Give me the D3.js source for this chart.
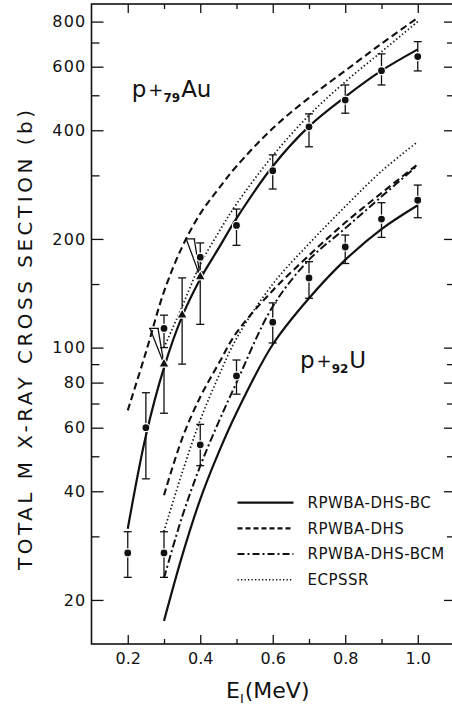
<!DOCTYPE html>
<html>
<head>
<meta charset="utf-8">
<script src="https://cdn.jsdelivr.net/npm/d3@7"></script>
<style>
  body { margin: 0; background: #fff; }
  svg { display: block; font-family: "DejaVu Sans", sans-serif; }
</style>
</head>
<body>
<div id="wrapper"></div>
<script>
// curves (cross section in barns)
const energiesAu = [0.2, 0.25, 0.3, 0.35, 0.4, 0.45, 0.5, 0.6, 0.7, 0.8, 0.9, 1.0]
const auBC  = [31.5, 57, 88, 122, 155, 188, 228, 318, 410, 495, 585, 670]
const auDHS = [67, 97, 143, 190, 235, 275, 318, 405, 492, 585, 695, 820]
const energiesAuEcpssr = [0.3, 0.35, 0.4, 0.45, 0.5, 0.6, 0.7, 0.8, 0.9, 1.0]
const auECPSSR = [100, 130, 170, 208, 250, 340, 440, 545, 660, 800]

const energiesU = [0.3, 0.35, 0.4, 0.45, 0.5, 0.6, 0.7, 0.8, 0.9, 1.0]
const uBC     = [17.5, 26.5, 38, 51, 66, 102, 137, 175, 213, 248]
const uDHS    = [39, 56, 73, 90, 110, 144, 180, 222, 268, 322]
const uBCM    = [23, 34, 47, 62, 80, 130, 175, 214, 262, 320]
const uECPSSR = [31, 45, 63, 83, 106, 150, 194, 246, 308, 372]

// measured points
const auPointE  = [0.2, 0.25, 0.3, 0.4, 0.5, 0.6, 0.7, 0.8, 0.9, 1.0]
const auPointV  = [27, 60, 113, 178, 218, 309, 409, 485, 585, 640]
const auPointLo = [23.1, 43.3, 100, 162, 192, 275, 360, 446, 534, 584]
const auPointHi = [30.9, 75, 123, 195, 242, 342, 444, 534, 651, 704]

const auTriE   = [0.3, 0.35, 0.4]
const auTriV   = [90, 123, 157]
const auTriLo  = [65.8, 90, 116]
const auTriHi  = [113, 156, 200]
const auTriVee = [true, false, true]

const uPointE  = [0.3, 0.4, 0.5, 0.6, 0.7, 0.8, 0.9, 1.0]
const uPointV  = [27, 53.8, 83.5, 117.6, 156, 190, 227, 256]
const uPointLo = [23.1, 47.1, 74.3, 103, 137, 171, 202, 229]
const uPointHi = [30.9, 61.3, 92.4, 133, 173, 205, 252, 282]

const legendLabels = ["RPWBA-DHS-BC", "RPWBA-DHS", "RPWBA-DHS-BCM", "ECPSSR"]
const legendStyles = ["solid", "dashed", "dashdot", "dotted"]

const yMajorTicks = [20, 40, 60, 80, 100, 200, 400, 600, 800]
const yMinorTicks = [30, 50, 70, 90, 150, 300, 500, 700]
const xMajorTicks = [0.2, 0.4, 0.6, 0.8, 1.0]
const xMinorTicks = [0.3, 0.5, 0.7, 0.9]

const ink = "#111"
const styles = {
  solid:   { width: 2.2, dash: null },
  dashed:  { width: 2.1, dash: "7,4" },
  dashdot: { width: 2.0, dash: "8,3,2,3" },
  dotted:  { width: 1.7, dash: "1.4,2.4" }
}

let dimensions = {
  width: 452,
  height: 707,
  margin: { top: 4, right: -2, bottom: 63, left: 91.5 }
}
dimensions.boundedWidth = dimensions.width
    - dimensions.margin.right
    - dimensions.margin.left
dimensions.boundedHeight = dimensions.height
    - dimensions.margin.top
    - dimensions.margin.bottom

const svg = d3.select("#wrapper")
  .append("svg")
    .attr("width", dimensions.width)
    .attr("height", dimensions.height)

svg.append("rect")
    .attr("width", dimensions.width)
    .attr("height", dimensions.height)
    .attr("fill", "#fff")

const bounds = svg.append("g")
    .attr("transform", `translate(${dimensions.margin.left},${dimensions.margin.top})`)

const xScale = d3.scaleLinear()
    .domain([0.1, 1.1])
    .range([0, dimensions.boundedWidth])

const yScale = d3.scaleLog()
    .domain([15.1, 895])
    .range([dimensions.boundedHeight, 0])

// axes: ticks point inwards on all four sides
function styleAxis(g) {
  g.select(".domain").remove()
  g.selectAll(".tick line").attr("stroke", ink).attr("stroke-width", 1.3)
  g.selectAll(".tick text").attr("fill", ink)
}

bounds.append("g")
    .call(d3.axisLeft(yScale).tickValues(yMajorTicks).tickFormat(d3.format("d"))
      .tickSize(-12).tickPadding(5))
    .call(styleAxis)
    .attr("font-size", 16)
    .attr("font-family", "DejaVu Sans")
    .selectAll("text").attr("letter-spacing", 1.2)
bounds.append("g")
    .call(d3.axisLeft(yScale).tickValues(yMinorTicks).tickFormat("").tickSize(-8))
    .call(styleAxis)

bounds.append("g")
    .attr("transform", `translate(${dimensions.boundedWidth},0)`)
    .call(d3.axisRight(yScale).tickValues(yMajorTicks).tickFormat("").tickSize(-10))
    .call(styleAxis)
bounds.append("g")
    .attr("transform", `translate(${dimensions.boundedWidth},0)`)
    .call(d3.axisRight(yScale).tickValues(yMinorTicks).tickFormat("").tickSize(-7))
    .call(styleAxis)

bounds.append("g")
    .attr("transform", `translate(0,${dimensions.boundedHeight})`)
    .call(d3.axisBottom(xScale).tickValues(xMajorTicks).tickFormat(d3.format(".1f"))
      .tickSize(-9).tickPadding(9))
    .call(styleAxis)
    .attr("font-size", 16)
    .attr("font-family", "DejaVu Sans")
bounds.append("g")
    .attr("transform", `translate(0,${dimensions.boundedHeight})`)
    .call(d3.axisBottom(xScale).tickValues(xMinorTicks).tickFormat("").tickSize(-5))
    .call(styleAxis)

bounds.append("g")
    .call(d3.axisTop(xScale).tickValues(xMajorTicks).tickFormat("").tickSize(-9))
    .call(styleAxis)
bounds.append("g")
    .call(d3.axisTop(xScale).tickValues(xMinorTicks).tickFormat("").tickSize(-5))
    .call(styleAxis)

bounds.append("rect")
    .attr("width", dimensions.boundedWidth)
    .attr("height", dimensions.boundedHeight)
    .attr("fill", "none")
    .attr("stroke", ink)
    .attr("stroke-width", 1.6)

// theory curves
const series = [
  { e: energiesAu, v: auBC, style: "solid" },
  { e: energiesAu, v: auDHS, style: "dashed" },
  { e: energiesAuEcpssr, v: auECPSSR, style: "dotted" },
  { e: energiesU, v: uBC, style: "solid" },
  { e: energiesU, v: uDHS, style: "dashed" },
  { e: energiesU, v: uBCM, style: "dashdot" },
  { e: energiesU, v: uECPSSR, style: "dotted" }
]

const lineGenerator = d3.line()
    .x(d => xScale(d[0]))
    .y(d => yScale(d[1]))
    .curve(d3.curveCatmullRom.alpha(0.5))

bounds.append("g").selectAll("path")
  .data(series)
  .join("path")
    .attr("d", s => lineGenerator(d3.zip(s.e, s.v)))
    .attr("fill", "none")
    .attr("stroke", ink)
    .attr("stroke-width", s => styles[s.style].width)
    .attr("stroke-dasharray", s => styles[s.style].dash)

// error bars
const capHalf = 4
function errorBar(g, x, lo, hi) {
  g.append("line").attr("x1", x).attr("x2", x).attr("y1", yScale(lo)).attr("y2", yScale(hi))
  g.append("line").attr("x1", x - capHalf).attr("x2", x + capHalf).attr("y1", yScale(lo)).attr("y2", yScale(lo))
  g.append("line").attr("x1", x - capHalf).attr("x2", x + capHalf).attr("y1", yScale(hi)).attr("y2", yScale(hi))
}

const bars = bounds.append("g")
    .attr("stroke", ink)
    .attr("stroke-width", 1.3)

auPointE.forEach((e, i) => errorBar(bars, xScale(e), auPointLo[i], auPointHi[i]))
uPointE.forEach((e, i) => errorBar(bars, xScale(e), uPointLo[i], uPointHi[i]))
auTriE.forEach((e, i) => {
  const x = xScale(e)
  if (!auTriVee[i]) {
    errorBar(bars, x, auTriLo[i], auTriHi[i])
    return
  }
  // lower half as a normal bar, upper half drawn as a "V" to a cap set off to the left
  const yv = yScale(auTriV[i])
  const yh = yScale(auTriHi[i])
  const yl = yScale(auTriLo[i])
  bars.append("line").attr("x1", x).attr("x2", x).attr("y1", yl).attr("y2", yv)
  bars.append("line").attr("x1", x - capHalf).attr("x2", x + capHalf).attr("y1", yl).attr("y2", yl)
  bars.append("path")
      .attr("fill", "none")
      .attr("d", `M${x - 15},${yh}L${x - 5},${yh}M${x - 14},${yh}L${x},${yv}L${x - 6},${yh}`)
})

// markers
const markers = bounds.append("g")
    .attr("fill", ink)
    .attr("stroke", "#fff")
    .attr("stroke-width", 1.2)

markers.selectAll("circle.au")
  .data(auPointE.map((e, i) => [e, auPointV[i]]))
  .join("circle")
    .attr("class", "au")
    .attr("cx", d => xScale(d[0]))
    .attr("cy", d => yScale(d[1]))
    .attr("r", 4)

markers.selectAll("circle.u")
  .data(uPointE.map((e, i) => [e, uPointV[i]]))
  .join("circle")
    .attr("class", "u")
    .attr("cx", d => xScale(d[0]))
    .attr("cy", d => yScale(d[1]))
    .attr("r", 4)

markers.selectAll("path.tri")
  .data(auTriE.map((e, i) => [e, auTriV[i]]))
  .join("path")
    .attr("class", "tri")
    .attr("d", d3.symbol(d3.symbolTriangle, 48))
    .attr("transform", d => `translate(${xScale(d[0])},${yScale(d[1])})`)

// reaction labels
function reactionLabel(x, y, z, element) {
  const t = bounds.append("text")
      .attr("x", x)
      .attr("y", y)
      .attr("fill", ink)
      .attr("font-size", 23)
  t.append("tspan").text("p")
  t.append("tspan").attr("font-size", 18).attr("dx", 2).attr("dy", -1).text("+")
  t.append("tspan").attr("font-size", 12).attr("font-weight", "bold").attr("dy", 6).text(z)
  t.append("tspan").attr("dy", -5).attr("dx", 1).text(element)
}
reactionLabel(xScale(0.211), yScale(494), "79", "Au")
reactionLabel(xScale(0.675), yScale(88), "92", "U")

// legend
const legend = bounds.append("g")
    .attr("transform", `translate(${xScale(0.5) + 1},${yScale(37.2)})`)

const legendRow = legend.selectAll("g")
  .data(legendLabels)
  .join("g")
    .attr("transform", (d, i) => `translate(0,${i * 25.7})`)

legendRow.append("line")
    .attr("x1", 0)
    .attr("x2", 56)
    .attr("stroke", ink)
    .attr("stroke-width", (d, i) => styles[legendStyles[i]].width)
    .attr("stroke-dasharray", (d, i) => ({ solid: null, dashed: "5,3", dashdot: "7,3,2,3", dotted: "1.3,2.2" })[legendStyles[i]])

legendRow.append("text")
    .attr("x", 70)
    .attr("dy", "0.36em")
    .attr("fill", ink)
    .attr("font-size", 15)
    .attr("letter-spacing", 0.5)
    .text(d => d)

// axis titles
svg.append("text")
    .attr("transform", "translate(32,340) rotate(-90)")
    .attr("text-anchor", "middle")
    .attr("fill", ink)
    .attr("font-size", 20)
    .attr("textLength", 460)
    .attr("lengthAdjust", "spacing")
    .text("TOTAL M X-RAY CROSS SECTION (b)")

const xTitle = svg.append("text")
    .attr("x", 226)
    .attr("y", 698)
    .attr("fill", ink)
    .attr("font-size", 22)
xTitle.append("tspan").text("E")
xTitle.append("tspan").attr("font-size", 13).attr("dy", 5).text("I")
xTitle.append("tspan").attr("dy", -5).attr("dx", 1).text("(MeV)")
</script>
</body>
</html>
